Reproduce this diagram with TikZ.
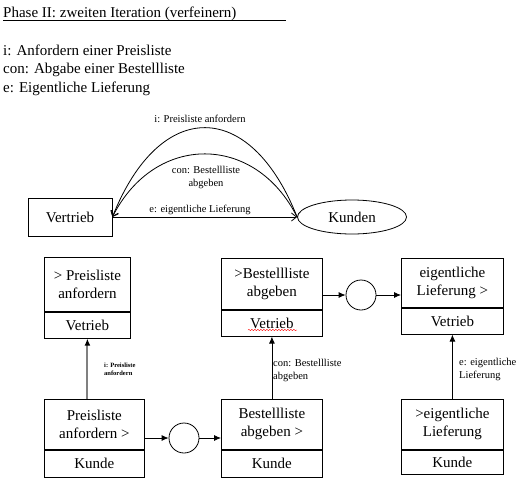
\documentclass[tikz,border=0pt]{standalone}
\usepackage{fontspec}
\setmainfont{Liberation Serif}
\usetikzlibrary{arrows.meta,shapes.geometric,decorations.pathmorphing}

\begin{document}
\begin{tikzpicture}[x=1pt,y=-1pt]
\tikzstyle{box}=[draw, line width=0.8pt, inner sep=0pt, align=center, font=\fontsize{15}{18}\selectfont]
\tikzstyle{txt}=[inner sep=0pt, anchor=base west, font=\fontsize{15}{18}\selectfont]
\tikzstyle{lab}=[inner sep=0pt, align=left, font=\fontsize{10.5}{13}\selectfont]
\tikzstyle{pfeil}=[line width=0.8pt, -{Latex[length=7pt,width=6pt]}]
\tikzstyle{bogen}=[line width=0.8pt, -{Straight Barb[length=5pt,width=8pt]}]
\useasboundingbox (0,0) rectangle (526,482);
% Kopf
\node[txt] (titel) at (3,17) {Phase II: zweiten Iteration (verfeinern)};
\draw[line width=0.7pt] (3,20) -- (286,20);
\node[txt] (li) at (3,55) {i: Anfordern einer Preisliste};
\node[txt] (lcon) at (3,73) {con: Abgabe einer Bestellliste};
\node[txt] (le) at (3,92) {e: Eigentliche Lieferung};
% Kontext
\node[box, minimum width=84, minimum height=38] (ver) at (70,217) {Vertrieb};
\node[box, ellipse, minimum width=109, minimum height=34] (kun) at (352,217) {Kunden};
\draw[bogen] (ver.east) -- (kun.west);
\draw[bogen] (kun.west) .. controls (250,98) and (160,98) .. (ver.east);
\draw[bogen] (kun.west) .. controls (255,133) and (155,133) .. (ver.east);
\node[lab] (u1) at (200,119) {i: Preisliste anfordern};
\node[lab, align=center] (u2) at (206,177) {con: Bestellliste\\abgeben};
\node[lab] (u3) at (200,210) {e: eigentliche Lieferung};
% obere Kaesten
\node[box, anchor=north west, minimum width=86, minimum height=54] (pa) at (44,257) {> Preisliste\\anfordern};
\node[box, anchor=north, minimum width=86, minimum height=26] (pv) at (pa.south) {Vetrieb};
\node[box, anchor=north west, minimum width=101, minimum height=51] (ba) at (221,258) {>Bestellliste\\abgeben};
\node[box, anchor=north, minimum width=101, minimum height=26] (bv) at (ba.south) {Vetrieb};
\node[box, anchor=north west, minimum width=102, minimum height=49] (la) at (401,258) {eigentliche\\Lieferung >};
\node[box, anchor=north, minimum width=102, minimum height=26] (lv) at (la.south) {Vetrieb};
\draw[red, line width=0.4pt, decorate, decoration={snake, amplitude=0.7pt, segment length=3pt}] (248,330) -- (297,330);
% untere Kaesten
\node[box, anchor=north west, minimum width=100, minimum height=50] (pk) at (44,399) {Preisliste\\anfordern >};
\node[box, anchor=north, minimum width=100, minimum height=27] (pkk) at (pk.south) {Kunde};
\node[box, anchor=north west, minimum width=101, minimum height=50] (bk) at (221,399) {Bestellliste\\abgeben >};
\node[box, anchor=north, minimum width=101, minimum height=27] (bkk) at (bk.south) {Kunde};
\draw[line width=2pt] (bk.south west) -- (bk.south east);
\node[box, anchor=north west, minimum width=102, minimum height=50] (lk) at (401,399) {>eigentliche\\Lieferung};
\node[box, anchor=north, minimum width=102, minimum height=24] (lkk) at (lk.south) {Kunde};
% Zustaende
\node[draw, line width=0.8pt, circle, minimum size=30] (s1) at (184,438) {};
\node[draw, line width=0.8pt, circle, minimum size=30] (s2) at (361,295) {};
\draw[pfeil] (s1 -| pk.east) -- (s1);
\draw[pfeil] (s1) -- (s1 -| bk.west);
\draw[pfeil] (s2 -| ba.east) -- (s2);
\draw[pfeil] (s2) -- (s2 -| la.west);
% Nachrichten
\draw[gray, line width=2pt, -{Latex[black,length=7pt,width=6pt]}] (pk.north -| pv.south) -- (pv.south);
\draw[pfeil] (bk.north) -- (bv.south);
\draw[pfeil] (lk.north) -- (lv.south);
\node[lab, anchor=west, font=\fontsize{6.5}{8}\bfseries\selectfont] (t1) at (104,369) {i: Preisliste\\anfordern};
\node[lab, anchor=west] (t2) at (273,370) {con: Bestellliste\\abgeben};
\node[lab, anchor=west] (t3) at (459,369) {e: eigentliche\\Lieferung};
\end{tikzpicture}
\end{document}
